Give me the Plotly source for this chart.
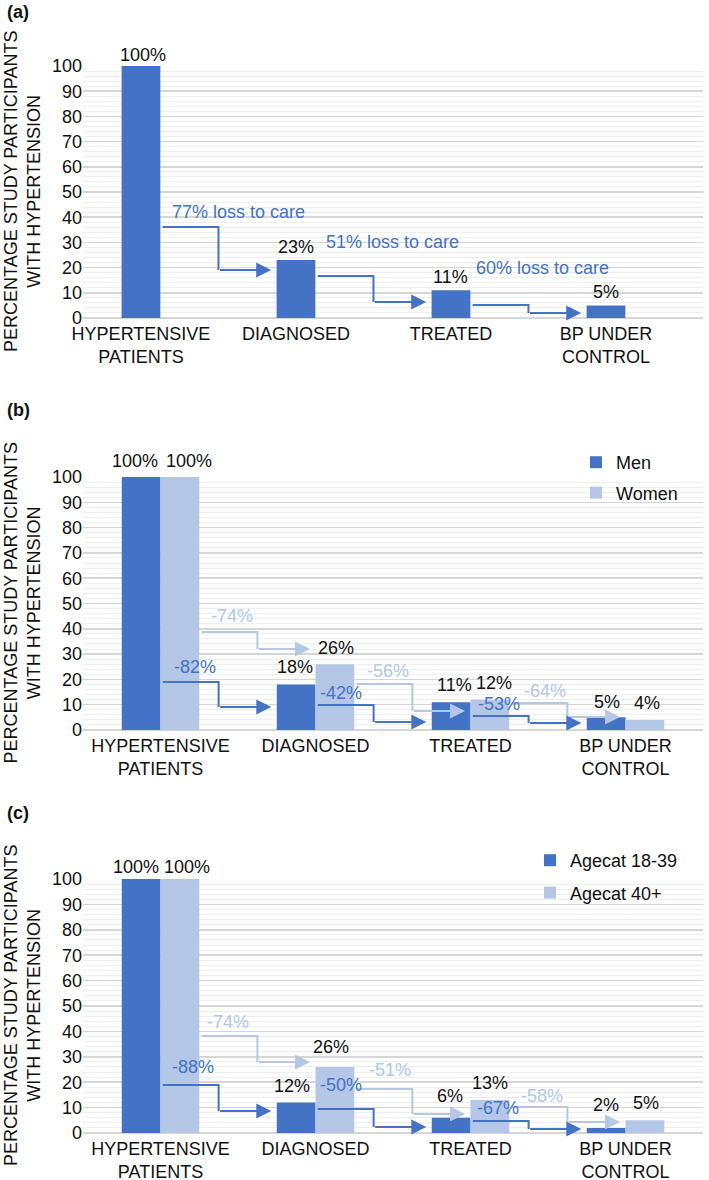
import plotly.graph_objects as go

# ---------------- data ----------------
categories = ["HYPERTENSIVE<br>PATIENTS", "DIAGNOSED", "TREATED", "BP UNDER<br>CONTROL"]
cat_pos = [0, 1, 2, 3]
y_ticks = [0, 10, 20, 30, 40, 50, 60, 70, 80, 90, 100]

a_values = [100, 23, 11, 5]
a_losses = ["77% loss to care", "51% loss to care", "60% loss to care"]

b_men = [100, 18, 11, 5]
b_women = [100, 26, 12, 4]
b_men_loss = ["-82%", "-42%", "-53%"]
b_women_loss = ["-74%", "-56%", "-64%"]

c_young = [100, 12, 6, 2]
c_old = [100, 26, 13, 5]
c_young_loss = ["-88%", "-50%", "-67%"]
c_old_loss = ["-74%", "-51%", "-58%"]

# ---------------- styling / layout helpers ----------------
DARK = "#4472C4"
LIGHT = "#B4C7E7"
TXT = "#111111"
FONT = "Liberation Sans, Arial, sans-serif"
W, H = 709, 1180
BAR_W = 0.25

# arrow levels (start y, end y) and label anchors (x, y) in data units
a_arrow_levels = [(36.1, 19.0), (16.7, 6.3), (5.2, 2.0)]
a_label_pos = [(0.187, 42.1), (1.181, 30.2), (2.148, 19.8)]
b_dark_levels = [(19.0, 9.1), (9.9, 3.2), (5.5, 2.8)]
b_dark_labels = [(0.074, 24.9), (1.016, 14.6), (2.035, 10.3)]
b_light_levels = [(38.7, 32.0), (18.2, 7.5), (10.7, 5.1)]
b_light_labels = [(0.313, 45.1), (1.319, 23.3), (2.332, 15.4)]
c_dark_levels = [(18.9, 8.7), (9.4, 2.4), (4.7, 1.6)]
c_dark_labels = [(0.061, 26.0), (1.016, 18.9), (2.029, 9.8)]
c_light_levels = [(38.2, 28.0), (17.3, 7.5), (10.2, 4.3)]
c_light_labels = [(0.287, 43.7), (1.332, 24.8), (2.313, 14.6)]

# value-label nudges in pixels (x shift, height of label centre above bar top)
a_dx, a_dy = [2.5, 0, 0, 0], [11, 13, 13, 13]
b_men_dx, b_men_dy = [-6.5, -1.5, 3, 1], [16, 17, 17, 15]
b_wom_dx, b_wom_dy = [9.5, 1, 4, 2], [16, 16, 17, 17]
c_yng_dx, c_yng_dy = [-5.5, -4.5, -1, 0], [12, 16.5, 22, 23]
c_old_dx, c_old_dy = [7, -3.5, 0, 1], [12, 20, 17, 17]


def px_x(px):
    return px / W


def px_y(py):
    return 1 - py / H


def ydom(top_px, bot_px):
    return [px_y(bot_px), px_y(top_px)]


fig = go.Figure()
annotations = []


def axn(n):
    return ("x", "y") if n == 1 else (f"x{n}", f"y{n}")


def add_bars(values, color, name, offset, axis_n, showlegend, legend, dxs, dys):
    xa, ya = axn(axis_n)
    fig.add_trace(go.Bar(
        x=cat_pos, y=values, name=name, width=BAR_W, offset=offset,
        marker=dict(color=color, line=dict(width=0)),
        xaxis=xa, yaxis=ya, showlegend=showlegend, legend=legend,
        legendgroup=name, hoverinfo="skip",
    ))
    for xp, v, dx, dy in zip(cat_pos, values, dxs, dys):
        annotations.append(dict(
            x=xp + offset + BAR_W / 2, y=v, xref=xa, yref=ya, text=f"{v}%",
            showarrow=False, xanchor="center", yanchor="middle",
            xshift=dx, yshift=dy,
            font=dict(size=18, color=TXT, family=FONT),
        ))


def add_arrows(centers, levels, labels, texts, color, axis_n):
    xa, ya = axn(axis_n)
    for i, ((y0, y1), (lx, ly), t) in enumerate(zip(levels, labels, texts)):
        xs = centers[i] + 0.14
        xk = centers[i] + 0.5
        xe = centers[i + 1] - 0.16
        fig.add_trace(go.Scatter(
            x=[xs, xk, xk], y=[y0, y0, y1], mode="lines",
            line=dict(color=color, width=2), showlegend=False,
            xaxis=xa, yaxis=ya, hoverinfo="skip", cliponaxis=False,
        ))
        annotations.append(dict(
            x=xe, y=y1, ax=xk, ay=y1, xref=xa, yref=ya, axref=xa, ayref=ya,
            showarrow=True, arrowhead=2, arrowsize=1.5, arrowwidth=2,
            arrowcolor=color, text="", standoff=0, startstandoff=0,
        ))
        annotations.append(dict(
            x=lx, y=ly, xref=xa, yref=ya, text=t, showarrow=False,
            xanchor="left", yanchor="middle",
            font=dict(size=18, color=color, family=FONT),
        ))


men_c = [p - BAR_W / 2 for p in cat_pos]
women_c = [p + BAR_W / 2 for p in cat_pos]

# panel (a)
add_bars(a_values, DARK, "All", -BAR_W / 2, 1, False, "legend", a_dx, a_dy)
add_arrows(cat_pos, a_arrow_levels, a_label_pos, a_losses, DARK, 1)

# panel (b)
add_bars(b_men, DARK, "Men", -BAR_W, 2, True, "legend", b_men_dx, b_men_dy)
add_bars(b_women, LIGHT, "Women", 0, 2, True, "legend", b_wom_dx, b_wom_dy)
add_arrows(women_c, b_light_levels, b_light_labels, b_women_loss, LIGHT, 2)
add_arrows(men_c, b_dark_levels, b_dark_labels, b_men_loss, DARK, 2)

# panel (c)
add_bars(c_young, DARK, "Agecat 18-39", -BAR_W, 3, True, "legend2", c_yng_dx, c_yng_dy)
add_bars(c_old, LIGHT, "Agecat 40+", 0, 3, True, "legend2", c_old_dx, c_old_dy)
add_arrows(women_c, c_light_levels, c_light_labels, c_old_loss, LIGHT, 3)
add_arrows(men_c, c_dark_levels, c_dark_labels, c_young_loss, DARK, 3)

xdom = [px_x(83), px_x(703)]


def xaxis(rng, anchor):
    return dict(domain=xdom, range=rng, tickvals=cat_pos, ticktext=categories,
                showgrid=False, zeroline=False, showline=False, ticks="",
                tickfont=dict(size=18, color=TXT, family=FONT),
                ticklabelstandoff=3,
                anchor=anchor, fixedrange=True, automargin=False)


def yaxis(dom, anchor):
    return dict(domain=dom, range=[0, 100], tickvals=y_ticks,
                showgrid=True, gridcolor="#d6d6d6", gridwidth=1.5,
                minor=dict(dtick=2, showgrid=True, gridcolor="#efefef", gridwidth=1),
                zeroline=True, zerolinecolor="#d6d6d6", zerolinewidth=2,
                showline=False, ticks="",
                tickfont=dict(size=18, color=TXT, family=FONT),
                anchor=anchor, fixedrange=True, automargin=False)


ytitle = "PERCENTAGE STUDY PARTICIPANTS<br>WITH HYPERTENSION"
for ypx in [192, 603.5, 1006]:
    annotations.append(dict(
        x=px_x(22), y=px_y(ypx), xref="paper", yref="paper", text=ytitle,
        textangle=-90, showarrow=False, xanchor="center", yanchor="middle",
        font=dict(size=18, color=TXT, family=FONT),
    ))
for (ypx, lab) in [(12, "(a)"), (410, "(b)"), (813, "(c)")]:
    annotations.append(dict(
        x=px_x(5), y=px_y(ypx), xref="paper", yref="paper", text=f"<b>{lab}</b>",
        showarrow=False, xanchor="left", yanchor="middle",
        font=dict(size=18, color=TXT, family=FONT),
    ))

fig.update_layout(
    width=W, height=H, autosize=False,
    margin=dict(l=0, r=0, t=0, b=0, pad=0, autoexpand=False),
    paper_bgcolor="white", plot_bgcolor="white",
    barmode="overlay",
    font=dict(family=FONT, size=18, color=TXT),
    xaxis=xaxis([-0.374, 3.626], "y"),
    yaxis=yaxis(ydom(66, 318), "x"),
    xaxis2=xaxis([-0.5, 3.5], "y2"),
    yaxis2=yaxis(ydom(477, 730), "x2"),
    xaxis3=xaxis([-0.5, 3.5], "y3"),
    yaxis3=yaxis(ydom(879, 1133), "x3"),
    legend=dict(x=px_x(576), y=px_y(444), xanchor="left", yanchor="top",
                tracegroupgap=4,
                bgcolor="rgba(0,0,0,0)", font=dict(size=18, family=FONT, color=TXT)),
    legend2=dict(x=px_x(530), y=px_y(842), xanchor="left", yanchor="top",
                 tracegroupgap=6,
                 bgcolor="rgba(0,0,0,0)", font=dict(size=18, family=FONT, color=TXT)),
    annotations=annotations,
    showlegend=True,
)

fig.write_html(
    "out.html",
    config={"displayModeBar": False, "staticPlot": True},
    post_script="document.body.style.margin='0px';document.body.style.overflow='hidden';",
)
